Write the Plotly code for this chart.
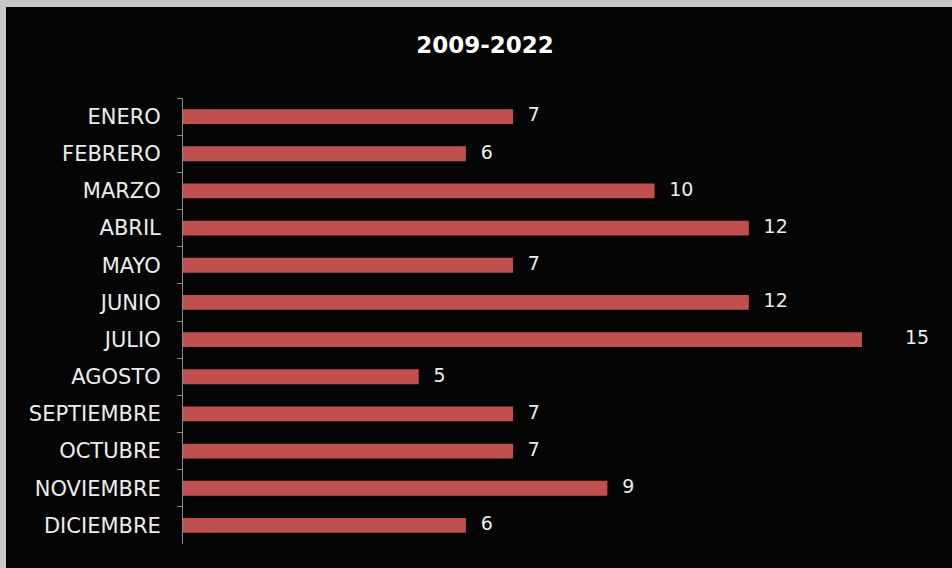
import plotly.graph_objects as go

months = ["ENERO", "FEBRERO", "MARZO", "ABRIL", "MAYO", "JUNIO", "JULIO",
          "AGOSTO", "SEPTIEMBRE", "OCTUBRE", "NOVIEMBRE", "DICIEMBRE"]
counts = [7, 6, 10, 12, 7, 12, 15, 5, 7, 7, 9, 6]
title_text = "2009-2022"

W, H = 952, 568
L, R, T, B = 183, 8, 98, 24
pw, ph = W - L - R, H - T - B
bar_px = 679            # visible width of bar area (clipped beyond)
bar_max = 14.4          # axis value at the clip edge
label_max = bar_max * pw / bar_px

BAR = "#C0504D"
TXT = "#EDEDED"

fig = go.Figure()
fig.add_trace(go.Bar(
    x=counts, y=months, orientation="h", xaxis="x", yaxis="y",
    marker=dict(color=BAR, line=dict(width=0)),
    width=0.4, cliponaxis=True, hoverinfo="skip",
))
# value labels (same pixel scale, wider axis so nothing gets hidden)
fig.add_trace(go.Scatter(
    x=counts, y=months, mode="markers+text", xaxis="x2", yaxis="y",
    text=[str(v) for v in counts], textposition="middle right",
    marker=dict(size=22, color="rgba(0,0,0,0)", line=dict(width=0)),
    textfont=dict(family="DejaVu Sans", size=19, color=TXT),
    cliponaxis=False, hoverinfo="skip",
))

# gray frame (left/top) and black chart area
shapes = [
    dict(type="rect", xref="paper", yref="paper", layer="below",
         x0=(6 - L) / pw, x1=(W + 10 - L) / pw,
         y0=(-10 - B) / ph, y1=(H - 7 - B) / ph,
         fillcolor="#050505", line=dict(width=0)),
]

fig.update_layout(
    width=W, height=H,
    margin=dict(l=L, r=R, t=T, b=B, pad=0),
    paper_bgcolor="#C8C8C8",
    plot_bgcolor="rgba(0,0,0,0)",
    showlegend=False,
    title=dict(text="<b>" + title_text + "</b>", x=485 / W, xref="container",
               xanchor="center", y=1 - 45 / H, yref="container", yanchor="middle",
               font=dict(family="DejaVu Sans", size=23, color="#FFFFFF")),
    xaxis=dict(range=[0, bar_max], domain=[0, bar_px / pw], visible=False,
               fixedrange=True),
    xaxis2=dict(range=[0, label_max], domain=[0, 1], visible=False,
                anchor="y", fixedrange=True),
    yaxis=dict(
        type="category", range=[len(months) - 0.5, -0.5], autorange=False,
        showline=True, linecolor="#8A8A8A", linewidth=1,
        ticks="outside", tickson="boundaries", ticklen=5, tickcolor="#8A8A8A",
        ticklabelstandoff=17,
        showgrid=False, zeroline=False, fixedrange=True,
        tickfont=dict(family="DejaVu Sans", size=21, color=TXT),
    ),
    shapes=shapes,
)

fig.write_html("out.html", config={"displayModeBar": False},
               post_script="document.body.style.margin='0';document.body.style.overflow='hidden';")
